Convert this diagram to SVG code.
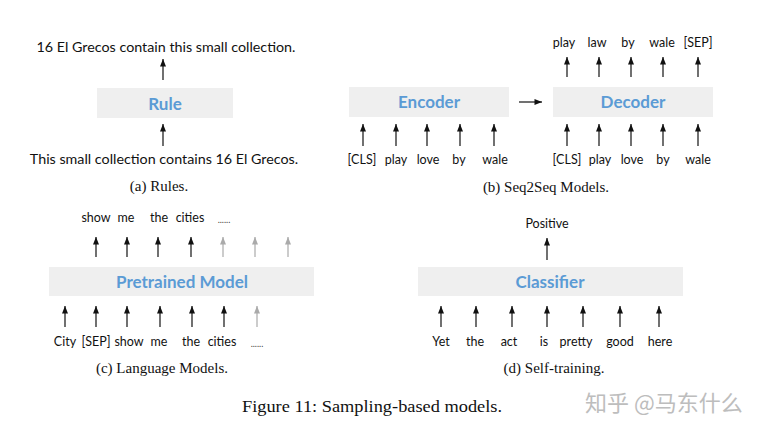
<svg xmlns="http://www.w3.org/2000/svg" width="763" height="431" viewBox="0 0 763 431">
<style>
.bg{fill:#ffffff}
.box{fill:#efefef}
.bl{font-family:Lato,"Open Sans",sans-serif;font-weight:bold;font-size:17px;fill:#5b9bd5;text-anchor:middle;dominant-baseline:central}
.w{font-family:Lato,"Open Sans",sans-serif;font-size:12.5px;fill:#111;text-anchor:middle;dominant-baseline:central}
.s{font-family:Lato,"Open Sans",sans-serif;font-size:14.3px;fill:#111;text-anchor:middle;dominant-baseline:central}
.d{font-family:Lato,"Open Sans",sans-serif;font-size:9px;fill:#444;text-anchor:middle;dominant-baseline:central}
.cap{font-family:"Liberation Serif",serif;font-size:15px;fill:#111;text-anchor:middle;dominant-baseline:central}
.wm{font-family:"Noto Sans CJK SC","Liberation Sans",sans-serif;font-size:22px;fill:#bdbdbd;dominant-baseline:central}
.a{stroke:#111;stroke-width:1.2;fill:none;marker-end:url(#ah)}
.g{stroke:#aaa;stroke-width:1.2;fill:none;marker-end:url(#ahg)}
</style>
<defs>
<marker id="ah" viewBox="0 0 10 8" refX="10" refY="4" markerWidth="8" markerHeight="6" markerUnits="userSpaceOnUse" orient="auto"><path d="M0,0 L10,4 L0,8 z" fill="#111"/></marker>
<marker id="ahg" viewBox="0 0 10 8" refX="10" refY="4" markerWidth="8" markerHeight="6" markerUnits="userSpaceOnUse" orient="auto"><path d="M0,0 L10,4 L0,8 z" fill="#aaa"/></marker>
</defs>
<rect class="bg" x="0" y="0" width="763" height="431"/>

<g id="rule"><rect class="box" x="97" y="88" width="136" height="30"/><text class="bl" x="165" y="103">Rule</text></g>
<g id="encoder"><rect class="box" x="349" y="87" width="160" height="30"/><text class="bl" x="429" y="101">Encoder</text></g>
<g id="decoder"><rect class="box" x="553" y="87" width="160" height="30"/><text class="bl" x="633" y="101">Decoder</text></g>
<g id="pretrained"><rect class="box" x="49" y="267" width="265" height="29"/><text class="bl" x="182" y="281">Pretrained Model</text></g>
<g id="classifier"><rect class="box" x="418" y="267" width="265" height="29"/><text class="bl" x="550" y="281">Classifier</text></g>

<g id="panel-a-text">
<text class="s" x="166" y="46">16 El Grecos contain this small collection.</text>
<text class="s" x="164" y="158">This small collection contains 16 El Grecos.</text>
<text class="cap" x="159" y="186">(a) Rules.</text>
</g>
<g id="panel-b-text">
<text class="w" x="564" y="42">play</text><text class="w" x="597" y="42">law</text><text class="w" x="628" y="42">by</text><text class="w" x="662" y="42">wale</text><text class="w" x="698" y="42">[SEP]</text>
<text class="w" x="362" y="159">[CLS]</text><text class="w" x="396" y="159">play</text><text class="w" x="428" y="159">love</text><text class="w" x="459" y="159">by</text><text class="w" x="495" y="159">wale</text>
<text class="w" x="567" y="159">[CLS]</text><text class="w" x="600" y="159">play</text><text class="w" x="632" y="159">love</text><text class="w" x="663" y="159">by</text><text class="w" x="698" y="159">wale</text>
<text class="cap" x="546" y="187">(b) Seq2Seq Models.</text>
</g>
<g id="panel-c-text">
<text class="w" x="96" y="217">show</text><text class="w" x="126" y="217">me</text><text class="w" x="159" y="217">the</text><text class="w" x="190" y="217">cities</text><text class="d" x="224" y="219">......</text>
<text class="w" x="65" y="341">City</text><text class="w" x="96" y="341">[SEP]</text><text class="w" x="129" y="341">show</text><text class="w" x="159" y="341">me</text><text class="w" x="191" y="341">the</text><text class="w" x="222" y="341">cities</text><text class="d" x="257" y="343">......</text>
<text class="cap" x="162" y="368">(c) Language Models.</text>
</g>
<g id="panel-d-text">
<text class="w" x="547" y="223">Positive</text>
<text class="w" x="441" y="341">Yet</text><text class="w" x="475" y="341">the</text><text class="w" x="509" y="341">act</text><text class="w" x="544" y="341">is</text><text class="w" x="576" y="341">pretty</text><text class="w" x="620" y="341">good</text><text class="w" x="660" y="341">here</text>
<text class="cap" x="554" y="368">(d) Self-training.</text>
</g>
<g id="figure-caption">
<text class="cap" x="372" y="406" style="font-size:16.5px" textLength="260" lengthAdjust="spacingAndGlyphs">Figure 11: Sampling-based models.</text>
<text class="wm" x="585" y="401">知乎 @马东什么</text>
</g>

<g id="connectors">
<path class="a" d="M163,80 V59"/>
<path class="a" d="M163,146 V124"/>
<path class="a" d="M519,102 H542"/>
<path class="a" d="M567,77 V57"/><path class="a" d="M599,77 V57"/><path class="a" d="M631,77 V57"/><path class="a" d="M663,77 V57"/><path class="a" d="M698,77 V57"/>
<path class="a" d="M363,146 V124"/><path class="a" d="M396,146 V124"/><path class="a" d="M427,146 V124"/><path class="a" d="M460,146 V124"/><path class="a" d="M494,146 V124"/>
<path class="a" d="M567,146 V124"/><path class="a" d="M599,146 V124"/><path class="a" d="M631,146 V124"/><path class="a" d="M663,146 V124"/><path class="a" d="M698,146 V124"/>
<path class="a" d="M96,257 V237"/><path class="a" d="M127,257 V237"/><path class="a" d="M158,257 V237"/><path class="a" d="M191,257 V237"/>
<path class="g" d="M223,257 V237"/><path class="g" d="M255,257 V237"/><path class="g" d="M288,257 V237"/>
<path class="a" d="M65,327 V306"/><path class="a" d="M96,327 V306"/><path class="a" d="M127,327 V306"/><path class="a" d="M160,327 V306"/><path class="a" d="M192,327 V306"/><path class="a" d="M224,327 V306"/>
<path class="g" d="M257,327 V306"/>
<path class="a" d="M547,260 V238"/>
<path class="a" d="M441,327 V306"/><path class="a" d="M476,327 V306"/><path class="a" d="M512,327 V306"/><path class="a" d="M547,327 V306"/><path class="a" d="M583,327 V306"/><path class="a" d="M620,327 V306"/><path class="a" d="M659,327 V306"/>
</g>
</svg>
